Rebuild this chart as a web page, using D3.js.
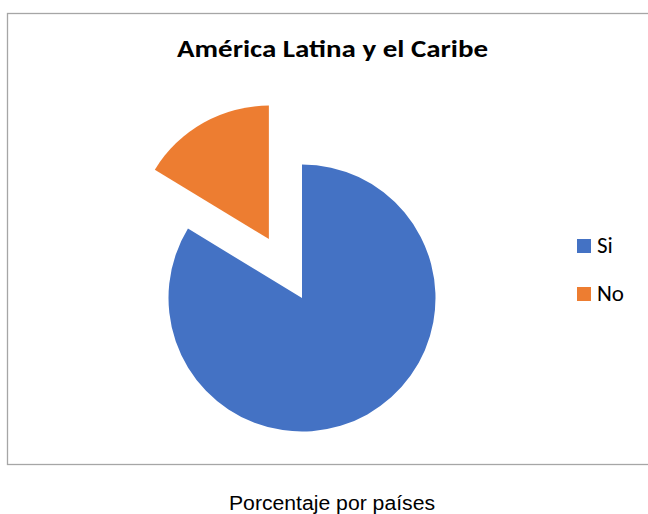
<!DOCTYPE html>
<html>
<head>
<meta charset="utf-8">
<script src="https://cdn.jsdelivr.net/npm/d3@7"></script>
<style>
  html, body { margin: 0; padding: 0; background: #fff; }
  svg { display: block; }
</style>
</head>
<body>
<svg id="chart" width="648" height="514"></svg>
<script>
const categories = ["Si", "No"];
const values = [83.7, 16.3];
const colors = ["#4472C4", "#ED7D31"];
const explode = [0, 67.6];
const title = "América Latina y el Caribe";
const caption = "Porcentaje por países";

const svg = d3.select("#chart");

// chart frame
svg.append("rect")
  .attr("x", 7.5).attr("y", 13.5)
  .attr("width", 660).attr("height", 451)
  .attr("fill", "#fff")
  .attr("stroke", "#a6a6a6")
  .attr("stroke-width", 1.3);

// title
svg.append("text")
  .attr("x", 332.5).attr("y", 57)
  .attr("text-anchor", "middle")
  .attr("font-family", "Carlito, Calibri, Lato, 'Open Sans', sans-serif")
  .attr("font-weight", "bold")
  .attr("font-size", 24)
  .attr("fill", "#000")
  .attr("textLength", 311)
  .attr("lengthAdjust", "spacingAndGlyphs")
  .text(title);

const cx = 302, cy = 298, r = 133.5;
const pie = d3.pie().sort(null).value(d => d.value);
const arcs = pie(categories.map((c, i) => ({ cat: c, value: values[i], i })));
const arc = d3.arc().innerRadius(0).outerRadius(r);

const g = svg.append("g").attr("transform", `translate(${cx},${cy})`);
g.selectAll("path")
  .data(arcs)
  .join("path")
  .attr("d", arc)
  .attr("fill", d => colors[d.data.i])
  .attr("transform", d => {
    const mid = (d.startAngle + d.endAngle) / 2;
    const o = explode[d.data.i];
    return `translate(${Math.sin(mid) * o},${-Math.cos(mid) * o})`;
  });

// legend
const leg = svg.append("g");
const legY = d3.scalePoint().domain(categories).range([246, 294]);
categories.forEach((c, i) => {
  leg.append("rect")
    .attr("x", 577).attr("y", legY(c) - 7)
    .attr("width", 14).attr("height", 14)
    .attr("fill", colors[i]);
  leg.append("text")
    .attr("x", 597).attr("y", legY(c) + 7)
    .attr("font-family", "Carlito, Calibri, Lato, 'Open Sans', sans-serif")
    .attr("font-size", 23)
    .attr("fill", "#000")
    .text(c);
});

// caption
svg.append("text")
  .attr("x", 332).attr("y", 510)
  .attr("text-anchor", "middle")
  .attr("font-family", "'Liberation Sans', Arial, sans-serif")
  .attr("font-size", 19.5)
  .attr("fill", "#000")
  .attr("textLength", 206)
  .attr("lengthAdjust", "spacingAndGlyphs")
  .text(caption);
</script>
</body>
</html>
